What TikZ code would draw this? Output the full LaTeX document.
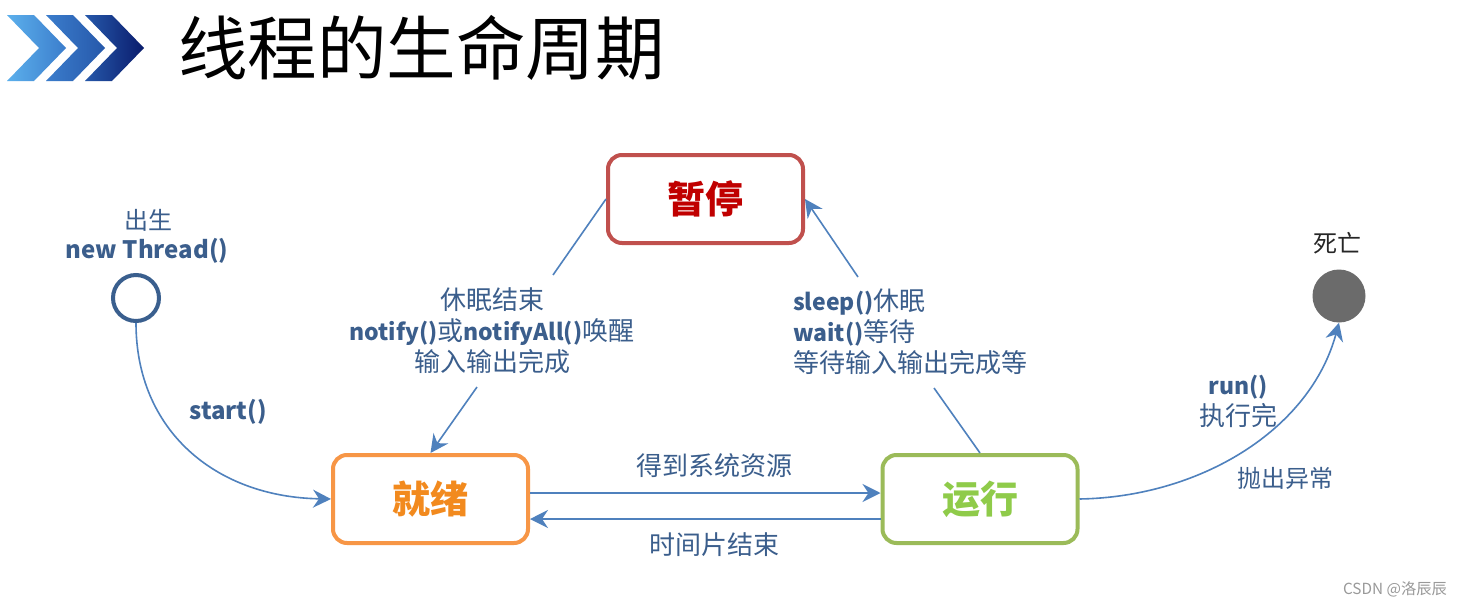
\documentclass[tikz,border=0pt]{standalone}
\usepackage{fontspec}
\setmainfont{Noto Sans CJK SC}
\usetikzlibrary{arrows.meta}
\definecolor{lbl}{HTML}{3B5E8C}
\definecolor{conncol}{HTML}{4F81BD}
\definecolor{pausecol}{HTML}{C0504D}
\definecolor{pausetxt}{HTML}{C00000}
\definecolor{readycol}{HTML}{F79646}
\definecolor{readytxt}{HTML}{F28A1E}
\definecolor{runcol}{HTML}{9BBB59}
\definecolor{runtxt}{HTML}{8FCB4A}
\definecolor{startcol}{HTML}{3A5F8E}
\definecolor{deathcol}{HTML}{6B6B6B}
\definecolor{chevA}{HTML}{5CB0EC}
\definecolor{chevB}{HTML}{3B7DCC}
\definecolor{chevC}{HTML}{2658AA}
\definecolor{chevD}{HTML}{0A1C6C}
\newcommand{\lat}[1]{{\fontsize{23}{31}\selectfont\bfseries #1}}
\tikzset{
  statebox/.style={draw, rounded corners=14pt, line width=4pt, minimum width=195pt,
    minimum height=88pt, fill=white, font=\fontsize{38}{40}\selectfont\bfseries},
  conn/.style={draw=conncol, line width=1.6pt, -{Stealth[length=18pt,width=18pt,inset=6pt]}},
  plainline/.style={draw=conncol, line width=1.6pt},
  lab/.style={text=lbl, font=\fontsize{26}{31}\selectfont, inner sep=0pt},
}
\begin{document}
\begin{tikzpicture}[x=1pt,y=-1pt]
\useasboundingbox (0,0) rectangle (1460,605);
\fill[white] (0,0) rectangle (1460,605);
% chevrons
\shade[left color=chevA, right color=chevB] (7,15) -- (34,15) -- (66,48) -- (34,81) -- (7,81) -- (39,48) -- cycle;
\shade[left color=chevB, right color=chevC] (46,15) -- (73,15) -- (105,48) -- (73,81) -- (46,81) -- (78,48) -- cycle;
\shade[left color=chevC, right color=chevD] (85,15) -- (112,15) -- (144,48) -- (112,81) -- (85,81) -- (117,48) -- cycle;
\node[anchor=west, inner sep=0pt, font=\fontsize{69.5}{72}\selectfont] (title) at (178,48) {线程的生命周期};

% states
\node[statebox, draw=pausecol, text=pausetxt] (pause) at (705.5,199) {暂停};
\node[statebox, draw=readycol, text=readytxt] (ready) at (430.5,499) {就绪};
\node[statebox, draw=runcol, text=runtxt] (run) at (980,499) {运行};
\node[circle, draw=startcol, line width=4pt, minimum size=46pt, inner sep=0pt] (start) at (136,298) {};
\node[circle, fill=deathcol, minimum size=53pt, inner sep=0pt] (death) at (1339,296) {};

% labels
\node[lab, font=\fontsize{24}{26}\selectfont] (born) at (148,220) {出生};
\node[lab, font=\fontsize{24}{26}\selectfont\bfseries] (newthr) at (147,251) {new Thread()};
\node[lab, font=\fontsize{24}{26}\selectfont\bfseries] (startlab) at (228,412) {start()};
\node[lab, align=center] (wakelab) at (492,331) {休眠结束\\\lat{notify()}或\lat{notifyAll()}唤醒\\输入输出完成};
\node[lab, align=left, anchor=west] (sleeplab) at (793,332) {\lat{sleep()}休眠\\\lat{wait()}等待\\等待输入输出完成等};
\node[lab, align=center] (runlab) at (1238,401) {\lat{run()}\\执行完};
\node[lab, font=\fontsize{24}{26}\selectfont] (exclab) at (1285,478) {抛出异常};
\node[lab, text=black!85, font=\fontsize{24}{26}\selectfont] (deadlab) at (1337,243) {死亡};
\node[lab] (getlab) at (714,466) {得到系统资源};
\node[lab] (slicelab) at (714,545) {时间片结束};
\node[inner sep=0pt, text=black!40, font=\fontsize{15.3}{17}\selectfont] (csdn) at (1395,589) {CSDN @洛辰辰};

% connectors
\coordinate (a1) at (553,275);
\coordinate (a2) at (477,387);
\coordinate (b1) at (934,388);
\coordinate (b2) at (858,277);
\draw[conn] (start.south) .. controls (136,430) and (215,497) .. (ready.west);
\draw[conn] ([yshift=6pt]ready.east) -- ([yshift=6pt]run.west);
\draw[conn] ([yshift=-20pt]run.west) -- ([yshift=-20pt]ready.east);
\draw[plainline] (pause.west) -- (a1);
\draw[conn] (a2) -- (ready.north);
\draw[plainline] (run.north) -- (b1);
\draw[conn] (b2) -- (pause.east);
\draw[conn] (run.east) .. controls (1200,497) and (1310,430) .. (death.south);
\end{tikzpicture}
\end{document}
